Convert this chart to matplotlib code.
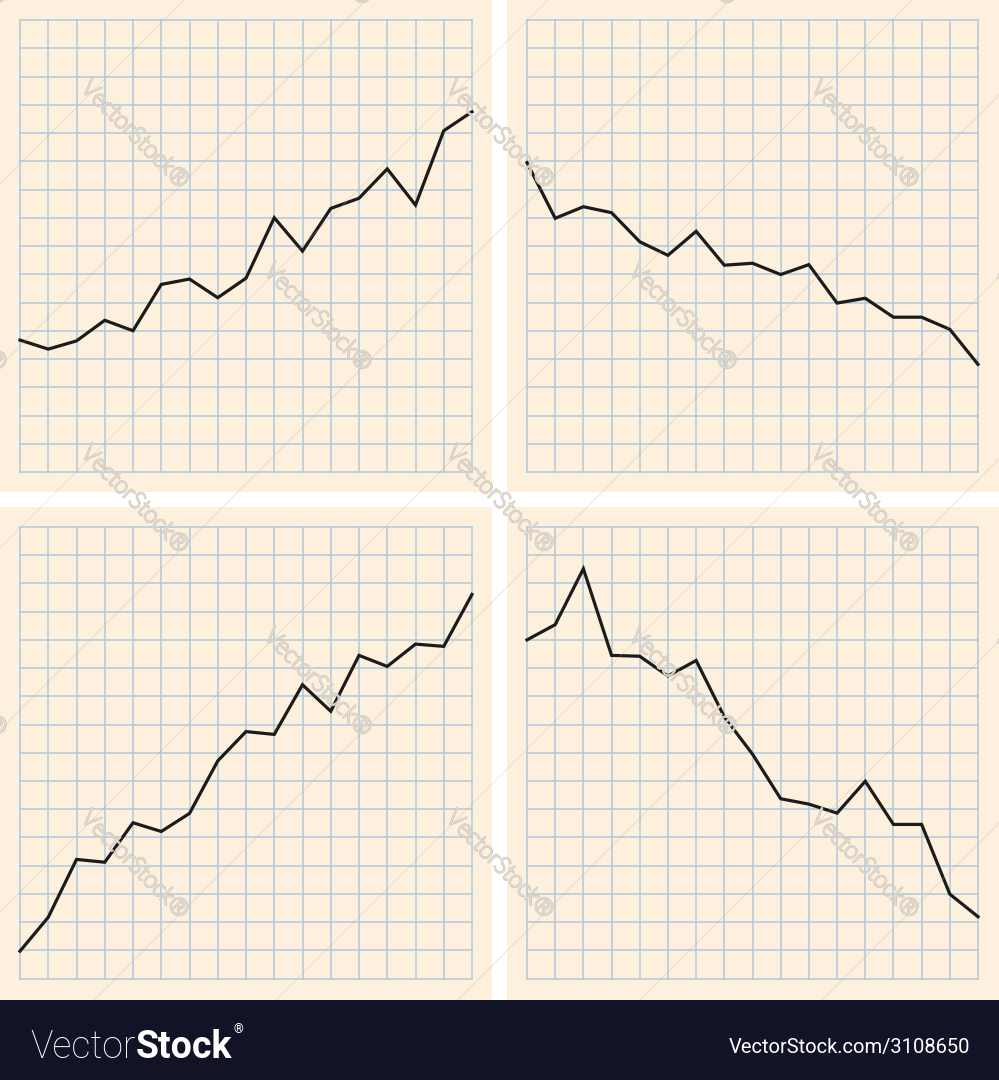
import matplotlib
matplotlib.use("Agg")
import matplotlib.pyplot as plt
import matplotlib.patheffects as pe
from matplotlib.patches import Rectangle
from matplotlib.lines import Line2D

W, H = 999, 1080

# values in grid squares (0..16), one point on every vertical grid line
steps = list(range(17))
rise_top = [4.67, 4.35, 4.64, 5.37, 5.0, 6.64, 6.83, 6.17, 6.86, 9.0, 7.82, 9.33, 9.69, 10.73, 9.45, 12.08, 12.75]
fall_top = [10.95, 8.98, 9.39, 9.18, 8.15, 7.67, 8.52, 7.32, 7.39, 6.99, 7.34, 5.98, 6.15, 5.48, 5.48, 5.05, 3.81]
rise_bottom = [0.97, 2.17, 4.22, 4.12, 5.52, 5.21, 5.85, 7.71, 8.75, 8.65, 10.41, 9.47, 11.45, 11.06, 11.85, 11.77, 13.61]
fall_bottom = [12.0, 12.54, 14.52, 11.45, 11.42, 10.72, 11.27, 9.27, 7.95, 6.37, 6.18, 5.86, 6.99, 5.46, 5.46, 2.99, 2.19]

paper = "#fdf0dc"
grid_col = "#b0cade"
ink = "#1b1b1b"
banner = "#121326"

fig = plt.figure(figsize=(W / 100, H / 100), dpi=100)
fig.patch.set_facecolor("white")

def px(x0, y0, x1, y1):
    # pixel box (top-left origin) -> figure rect
    return [x0 / W, 1 - y1 / H, (x1 - x0) / W, (y1 - y0) / H]

# paper sheets
for (x0, y0, x1, y1) in [(0, 0, 492, 492), (507, 0, W, 492), (0, 507, 492, 1000), (507, 507, W, 1000)]:
    r = px(x0, y0, x1, y1)
    fig.patches.append(Rectangle((r[0], r[1]), r[2], r[3], transform=fig.transFigure,
                                 facecolor=paper, edgecolor="none", zorder=-2))

# faint diagonal watermark lines
for c in range(-1000, 2200, 182):
    c = c + 92
    fig.add_artist(Line2D([0, 1], [1 - c / H, 1 - (c - W) / H], transform=fig.transFigure,
                          color="#b8b2aa", lw=0.5, alpha=0.4, zorder=4))

panels = [
    ((20, 20, 472, 472), rise_top),
    ((527, 20, 978, 472), fall_top),
    ((20, 527, 472, 978.5), rise_bottom),
    ((527, 527, 978, 978.5), fall_bottom),
]

for box, vals in panels:
    ax = fig.add_axes(px(*box), zorder=2)
    ax.set_facecolor("none")
    ax.set_xlim(0, 16)
    ax.set_ylim(0, 16)
    for k in range(17):
        ax.axvline(k, color=grid_col, lw=1.1, zorder=1, clip_on=False)
        ax.axhline(k, color=grid_col, lw=1.1, zorder=1, clip_on=False)
    ax.plot(steps, vals, color=ink, lw=2.3, solid_joinstyle="miter", zorder=3, clip_on=False)
    ax.set_xticks([])
    ax.set_yticks([])
    for s in ax.spines.values():
        s.set_visible(False)

# watermark texts
marks = []
for i, y in enumerate([-48, 135, 318, 500, 683, 865]):
    xs = [-47, 318, 683, 1048] if i % 2 == 0 else [135, 500, 865]
    for x in xs:
        marks.append((x, y))
for x, y in marks:
    fig.text(x / W, 1 - y / H, "VectorStock\u00ae", rotation=-45, ha="center", va="center",
             fontsize=17, family=["Lato", "DejaVu Sans"], fontweight="light",
             color="#fefcf8", alpha=0.9, zorder=5, rotation_mode="anchor",
             path_effects=[pe.withStroke(linewidth=1.6, foreground="#d2ccc4")])

# bottom banner
r = px(0, 1000, W, H)
fig.patches.append(Rectangle((r[0], r[1]), r[2], r[3], transform=fig.transFigure,
                             facecolor=banner, edgecolor="none", zorder=6))

narrow = ["Roboto", "DejaVu Sans"]
renderer = fig.canvas.get_renderer()
t1 = fig.text(30 / W, 1 - 1058 / H, "Vector", color="white", fontsize=27, family=narrow,
              fontweight="light", ha="left", va="baseline", zorder=7)
bb = t1.get_window_extent(renderer)
t2 = fig.text(bb.x1 / W, 1 - 1058 / H, "Stock", color="white", fontsize=27, family=narrow,
              fontweight="bold", ha="left", va="baseline", zorder=7)
bb2 = t2.get_window_extent(renderer)
fig.text(bb2.x1 / W + 0.002, 1 - 1030 / H, "\u00ae", color="white", fontsize=9,
         family=narrow, ha="left", va="center", zorder=7)

fig.text(970 / W, 1 - 1047 / H, "VectorStock.com/3108650", color="white", fontsize=14.5,
         family=narrow, ha="right", va="center", zorder=7)

fig.savefig("out.png", dpi=100, facecolor=fig.get_facecolor())
